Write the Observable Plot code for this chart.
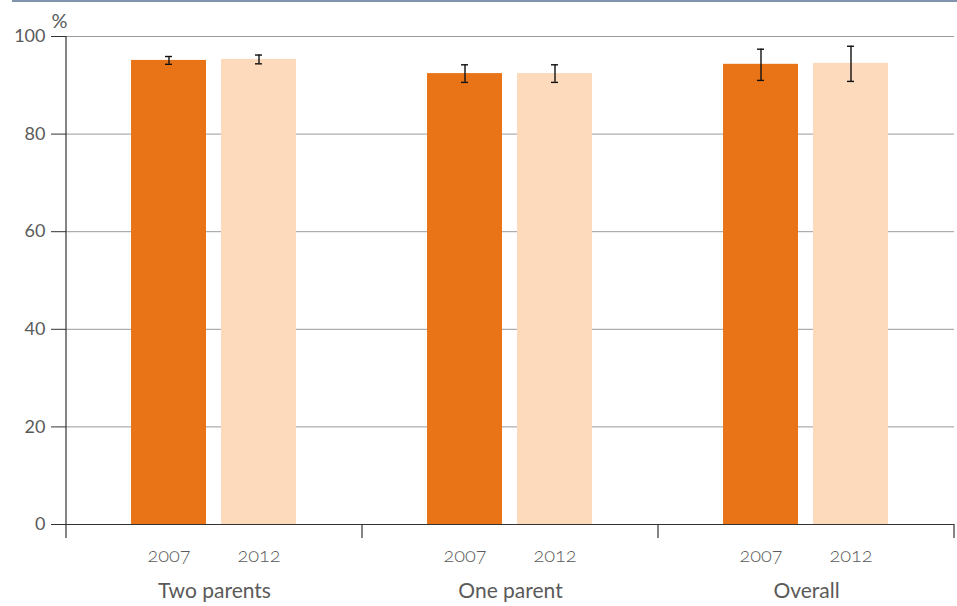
<!DOCTYPE html>
<html>
<head>
<meta charset="utf-8">
<script src="https://cdn.jsdelivr.net/npm/d3@7"></script>
<script src="https://cdn.jsdelivr.net/npm/@observablehq/plot@0.6"></script>
<style>
  html, body { margin: 0; padding: 0; background: #fff; }
  #wrap { width: 957px; }
  #topline { margin-left: 12px; height: 0; border-top: 2px solid #8094ab; }
  svg { display: block; }
</style>
</head>
<body>
<div id="wrap">
  <div id="topline"></div>
  <div id="chart"></div>
</div>
<script>
// Family type groups and survey years
const groups = ["Two parents", "One parent", "Overall"];
const years = ["2007", "2012"];

// Percentages per group, with 95% confidence limits
const values2007 = [95.1, 92.4, 94.3];
const values2012 = [95.3, 92.4, 94.5];
const lower2007 = [94.3, 90.6, 91.0];
const upper2007 = [95.9, 94.2, 97.4];
const lower2012 = [94.4, 90.6, 90.8];
const upper2012 = [96.2, 94.2, 98.0];

const yTicks = [0, 20, 40, 60, 80, 100];
const yearColors = ["#e97417", "#fddabb"];

const rows = groups.flatMap((g, i) => [
  {group: g, year: years[0], value: values2007[i], lo: lower2007[i], hi: upper2007[i]},
  {group: g, year: years[1], value: values2012[i], lo: lower2012[i], hi: upper2012[i]}
]);

const textColor = "#5a5a5a";

const plot = Plot.plot({
  width: 957,
  height: 604,
  marginTop: 34,
  marginBottom: 82,
  marginLeft: 65,
  marginRight: 2,
  style: {fontFamily: "Lato, 'Open Sans', sans-serif", fontSize: "18px", color: textColor, background: "white"},
  fx: {domain: groups, padding: 0, label: null, axis: null},
  x: {domain: years, paddingInner: 0.165, paddingOuter: 0.713, axis: null},
  y: {domain: [0, 100], axis: null},
  color: {domain: years, range: yearColors},
  marks: [
    Plot.gridY(yTicks.filter(d => d > 0), {stroke: "#9a9a9a", strokeOpacity: 1, strokeWidth: 1}),
    Plot.barY(rows, {fx: "group", x: "year", y: "value", fill: "year"}),
    Plot.ruleX(rows, {fx: "group", x: "year", y1: "lo", y2: "hi", stroke: "#111", strokeWidth: 1.4}),
    Plot.tickY(rows, {fx: "group", x: "year", y: "lo", stroke: "#111", strokeWidth: 1.4, insetLeft: 34, insetRight: 34}),
    Plot.tickY(rows, {fx: "group", x: "year", y: "hi", stroke: "#111", strokeWidth: 1.4, insetLeft: 34, insetRight: 34}),
    Plot.ruleY([0], {stroke: "#333", strokeWidth: 1.2}),
    Plot.axisY({ticks: yTicks, tickSize: 15, tickPadding: 6, label: null, stroke: "#333", fontSize: 18}),
    Plot.axisX({tickSize: 0, tickPadding: 23, label: null, fontSize: 20, fontWeight: 300}),
    Plot.axisFx({anchor: "bottom", tickSize: 0, tickPadding: 59, label: null, fontSize: 21}),
    Plot.text(["%"], {fx: [groups[0]], frameAnchor: "top-left", dx: -15, dy: -23, fontSize: 20, fill: textColor})
  ]
});

document.getElementById("chart").appendChild(plot);

// Vertical axis line and group separators, positioned with the plot's own scales
const fx = plot.scale("fx");
const y = plot.scale("y");
const svg = d3.select(plot);
const y0 = y.apply(0);
const yTop = y.apply(100);
const tickLen = 14;
const g = svg.append("g").attr("stroke", "#333").attr("stroke-width", 1.2);
g.append("line")
  .attr("x1", fx.apply(groups[0])).attr("x2", fx.apply(groups[0]))
  .attr("y1", yTop).attr("y2", y0 + tickLen);
groups.forEach(name => {
  const xr = fx.apply(name) + fx.bandwidth;
  g.append("line")
    .attr("x1", xr).attr("x2", xr)
    .attr("y1", y0).attr("y2", y0 + tickLen);
});
// Year labels use old-style figures
svg.selectAll("[aria-label='x-axis tick label'] text").style("font-variant-numeric", "oldstyle-nums");
</script>
</body>
</html>
